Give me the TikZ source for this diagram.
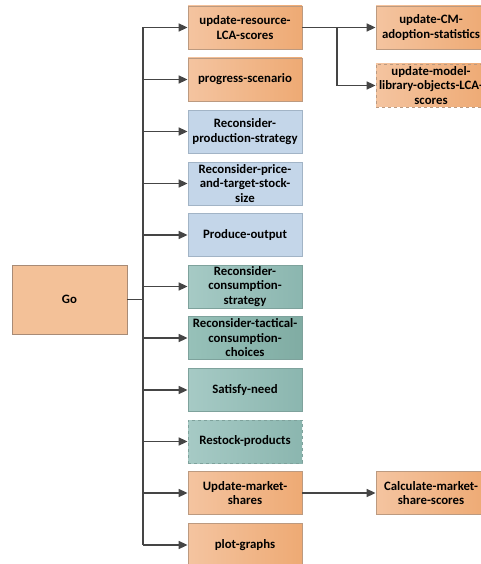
\documentclass[tikz,border=0pt]{standalone}
\usepackage{fontspec}
\setmainfont{Carlito}
\usetikzlibrary{arrows.meta}
\definecolor{orL}{HTML}{F4C4A0}
\definecolor{orR}{HTML}{EEAA74}
\definecolor{orB}{HTML}{BC9A80}
\definecolor{goF}{HTML}{F3C198}
\definecolor{goB}{HTML}{A88B76}
\definecolor{blF}{HTML}{C4D6E9}
\definecolor{blB}{HTML}{A2B4C6}
\definecolor{tlL}{HTML}{A6CAC5}
\definecolor{tlR}{HTML}{8BB6AF}
\definecolor{tdL}{HTML}{97C1B9}
\definecolor{tdR}{HTML}{80ACA3}
\definecolor{tlB}{HTML}{7EA29C}
\definecolor{ln}{HTML}{454545}
\tikzset{
  box/.style={rectangle, minimum width=114pt, minimum height=43pt,
    align=center, font=\fontsize{12.8}{14.5}\selectfont\bfseries, inner sep=0pt, line width=0.8pt},
  rbox/.style={box, minimum width=110pt},
  orange/.style={draw=orB, left color=orL, right color=orR},
  blue/.style={draw=blB, fill=blF},
  teal/.style={draw=tlB, left color=tlL, right color=tlR},
  tealdark/.style={draw=tlB, left color=tdL, right color=tdR},
  flow/.style={draw=ln, line width=1.6pt, -{Triangle[length=9pt,width=8pt]}},
  plain/.style={draw=ln, line width=1.6pt}
}
\begin{document}
\begin{tikzpicture}[x=1pt,y=-1pt]
\useasboundingbox (0,0) rectangle (481,564);
\begin{scope}
\clip (0,0) rectangle (481,564);
\node[box, draw=goB, fill=goF, minimum width=115pt, minimum height=69pt] (go) at (69.5,299.5) {Go};

\node[box, orange] (b1) at (245,27.5) {update-resource-\\LCA-scores};
\node[box, orange] (b2) at (245,79.5) {progress-scenario};
\node[box, blue] (b3) at (245,131.5) {Reconsider-\\production-strategy};
\node[box, blue] (b4) at (245,183.5) {Reconsider-price-\\and-target-stock-\\size};
\node[box, blue] (b5) at (245,235) {Produce-output};
\node[box, teal] (b6) at (245,286.5) {Reconsider-\\consumption-\\strategy};
\node[box, tealdark] (b7) at (245,338) {Reconsider-tactical-\\consumption-\\choices};
\node[box, teal] (b8) at (245,390) {Satisfy-need};
\node[box, teal, dashed] (b9) at (245,441.5) {Restock-products};
\node[box, orange] (b10) at (245,493) {Update-market-\\shares};
\node[box, orange] (b11) at (245,545) {plot-graphs};

\node[rbox, orange] (r1) at (431,27.5) {update-CM-\\adoption-statistics};
\node[rbox, orange, dashed] (r2) at (431,85.5) {update-model-\\library-objects-LCA-\\scores};
\node[rbox, orange] (r3) at (431,493) {Calculate-market-\\share-scores};

% trunk from Go to every step
\coordinate (tk) at (143,299.5);
\draw[plain] (go.east) -- (tk);
\draw[plain] (b1.west -| tk) -- (b11.west -| tk);
\foreach \n in {b1,b2,b3,b4,b5,b6,b7,b8,b9,b10,b11}
  \draw[flow] (\n.west -| tk) -- (\n.west);

% side branches
\draw[flow] (b1.east) -- (r1.west);
\coordinate (split) at (337,27.5);
\draw[flow] (split) |- (r2.west);
\draw[flow] (b10.east) -- (r3.west);
\end{scope}
\end{tikzpicture}
\end{document}
